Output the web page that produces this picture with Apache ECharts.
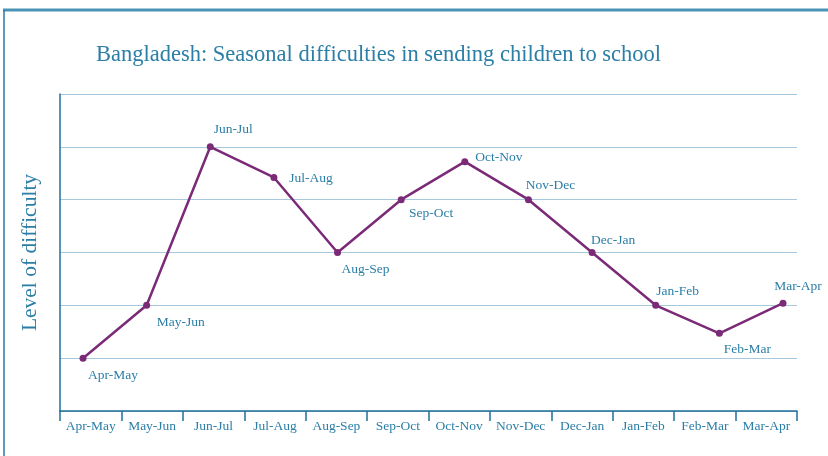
<!DOCTYPE html>
<html>
<head>
<meta charset="utf-8">
<script src="https://cdn.jsdelivr.net/npm/echarts@6/dist/echarts.min.js"></script>
<style>
  html, body { margin: 0; padding: 0; background: #fff; }
  #chart { width: 828px; height: 456px; }
</style>
</head>
<body>
<div id="chart"></div>
<script>
// periods along the x axis
var periods = ['Apr-May', 'May-Jun', 'Jun-Jul', 'Jul-Aug', 'Aug-Sep', 'Sep-Oct',
  'Oct-Nov', 'Nov-Dec', 'Dec-Jan', 'Jan-Feb', 'Feb-Mar', 'Mar-Apr'];
// level of difficulty (no scale printed, 0..6 grid steps)
var difficulty = [1.0, 2.0, 5.0, 4.42, 3.0, 4.0, 4.72, 4.0, 3.0, 2.0, 1.47, 2.04];
var yTicks = [0, 1, 2, 3, 4, 5, 6];

// where each point label sits relative to its point
var labelOffsets = [[30, 17], [34, 17], [23, -17], [37, 1], [28, 17], [30, 14],
  [34, -4], [22, -14], [21, -12], [22, -14], [28, 16], [15, -17]];

var teal = '#2b7ea6';
var axisBlue = '#1f6f98';
var font = '"Liberation Serif", "DejaVu Serif", serif';

var chart = echarts.init(document.getElementById('chart'));
chart.setOption({
  animation: false,
  title: {
    text: 'Bangladesh: Seasonal difficulties in sending children to school',
    left: 91,
    top: 39,
    textStyle: { fontFamily: font, fontSize: 22.5, fontWeight: 'normal', color: teal }
  },
  graphic: [
    // frame around the figure
    { type: 'line', shape: { x1: 3, y1: 10, x2: 828, y2: 10 }, style: { stroke: '#4b93b6', lineWidth: 3 } },
    { type: 'line', shape: { x1: 4, y1: 10, x2: 4, y2: 456 }, style: { stroke: '#2a7aa2', lineWidth: 1.5 } }
  ],
  grid: [
    { left: 60, top: 94, width: 737, height: 317 },
    { left: 83, top: 94, width: 700, height: 317 }
  ],
  xAxis: [{
    type: 'category',
    gridIndex: 0,
    data: periods,
    boundaryGap: true,
    axisLine: { lineStyle: { color: axisBlue, width: 1.5 } },
    axisTick: { show: true, length: 10, lineStyle: { color: axisBlue, width: 1.5 } },
    axisLabel: { fontFamily: font, fontSize: 13.5, color: teal, margin: 8, interval: 0 }
  }, {
    type: 'category',
    gridIndex: 1,
    data: periods,
    boundaryGap: false,
    show: false
  }],
  yAxis: [{
    type: 'value',
    gridIndex: 0,
    min: yTicks[0],
    max: yTicks[yTicks.length - 1],
    interval: 1,
    name: 'Level of difficulty',
    nameLocation: 'middle',
    nameGap: 19,
    nameTextStyle: { fontFamily: font, fontSize: 21.5, color: teal },
    axisLine: { show: true, lineStyle: { color: axisBlue, width: 1.5 } },
    axisTick: { show: false },
    axisLabel: { show: false },
    splitLine: { lineStyle: { color: '#a7c9df', width: 1.2 } }
  }, {
    type: 'value',
    gridIndex: 1,
    min: yTicks[0],
    max: yTicks[yTicks.length - 1],
    show: false,
    splitLine: { show: false }
  }],
  series: [{
    type: 'line',
    xAxisIndex: 1,
    yAxisIndex: 1,
    data: difficulty.map(function (v, i) {
      return {
        value: v,
        label: { offset: labelOffsets[i] }
      };
    }),
    symbol: 'circle',
    symbolSize: 7,
    lineStyle: { color: '#7b2a78', width: 2.5 },
    itemStyle: { color: '#7b2a78' },
    label: {
      show: true,
      position: 'inside',
      formatter: function (p) { return periods[p.dataIndex]; },
      fontFamily: font,
      fontSize: 13.5,
      color: teal
    }
  }]
});
</script>
</body>
</html>
